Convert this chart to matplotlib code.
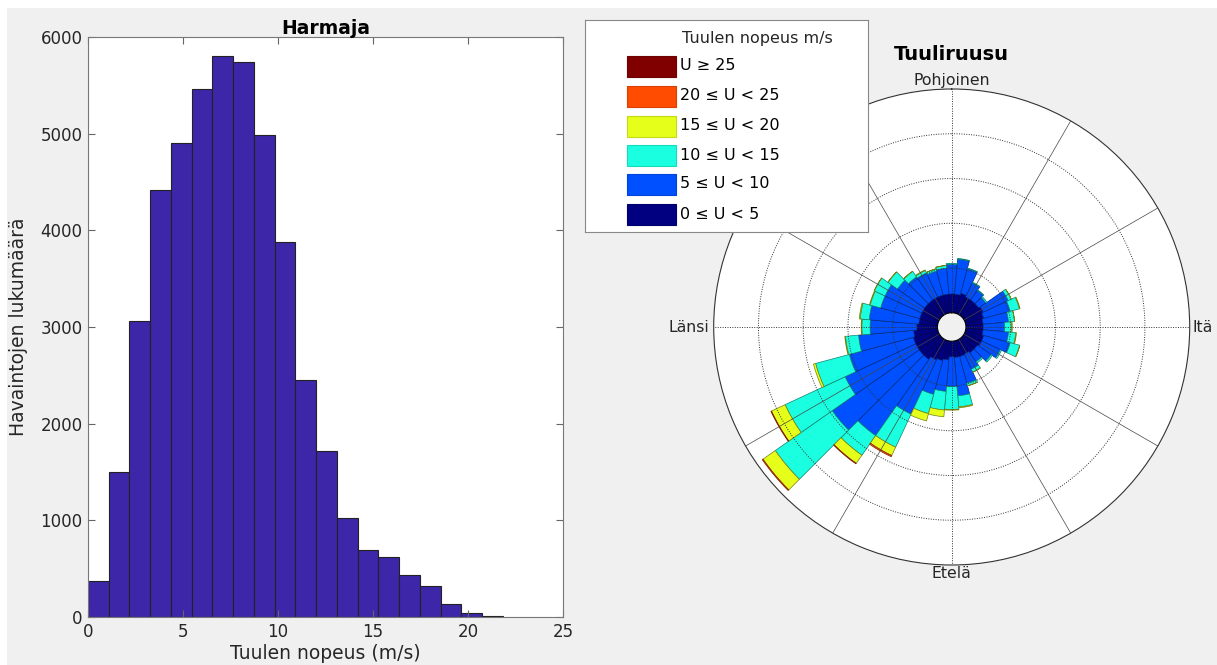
import numpy as np
import matplotlib.pyplot as plt
from matplotlib.colors import to_rgb
from matplotlib.patches import Rectangle

# histogram of wind speed at Harmaja
bin_edges = np.linspace(0, 21.84, 21)
counts = [377, 1504, 3061, 4421, 4899, 5465, 5807, 5737, 4982, 3877,
          2456, 1719, 1022, 689, 618, 439, 320, 136, 44, 9]

# wind rose: frequency (%) per 10 degree sector and speed class
dirs = np.arange(0, 360, 10)
u_0_5 = [0.84, 0.84, 0.92, 0.84, 0.84, 0.84, 0.92, 0.84, 0.77, 0.77, 0.77, 0.84,
         0.84, 0.77, 0.77, 0.70, 0.73, 0.73, 0.70, 0.84, 0.92, 0.99, 1.14, 1.14,
         1.14, 1.14, 1.07, 0.92, 0.84, 0.84, 0.84, 0.84, 0.84, 0.84, 0.84, 0.84]
u_5_10 = [1.33, 1.57, 1.14, 0.70, 0.52, 0.39, 1.23, 1.23, 1.14, 0.96, 1.14, 1.23,
          0.92, 0.74, 0.49, 0.74, 1.23, 1.72, 1.33, 1.41, 1.56, 2.67, 4.15, 4.74,
          3.48, 2.96, 2.47, 2.09, 2.22, 1.81, 1.81, 1.48, 1.26, 1.19, 1.11, 1.16]
u_10_15 = [0.04, 0.03, 0.03, 0.03, 0.03, 0.06, 0.15, 0.43, 0.27, 0.30, 0.33, 0.44,
           0.06, 0.07, 0.07, 0.15, 0.12, 0.50, 1.02, 0.84, 0.89, 1.63, 1.07, 3.11,
           2.96, 1.56, 0.59, 0.37, 0.41, 0.49, 0.53, 0.52, 0.30, 0.12, 0.10, 0.12]
u_15_20 = [0, 0, 0, 0, 0, 0, 0.01, 0.03, 0.01, 0.04, 0.03, 0.01,
           0, 0, 0, 0.01, 0.01, 0.04, 0.03, 0.30, 0.34, 0.41, 0.44, 0.67,
           0.67, 0.10, 0.03, 0.03, 0.04, 0.03, 0.01, 0.01, 0.01, 0.03, 0.01, 0.01]
u_20_25 = [0, 0, 0, 0, 0, 0, 0, 0, 0, 0, 0, 0,
           0, 0, 0, 0, 0, 0, 0, 0, 0, 0.06, 0.03, 0.04,
           0.03, 0, 0, 0, 0, 0, 0, 0, 0, 0, 0, 0]
u_25 = [0] * 36

classes = [u_0_5, u_5_10, u_10_15, u_15_20, u_20_25, u_25]
class_labels = ['0 ≤ U < 5', '5 ≤ U < 10', '10 ≤ U < 15',
                '15 ≤ U < 20', '20 ≤ U < 25', 'U ≥ 25']
class_colors = ['#000080', '#0050FF', '#1AFFE0', '#E5FF1A', '#FF4C00', '#800000']
ring_step = 2
ring_max = 10
hole = 0.637

bg = '#F0F0F0'
txt = '#262626'

fig = plt.figure(figsize=(12.17, 6.65), dpi=100, facecolor='white')
fig.patches.append(Rectangle((7/1217, 0), 1, 1 - 8/665, transform=fig.transFigure,
                             facecolor=bg, edgecolor='none', zorder=-10))

# ---- left: histogram ----
ax = fig.add_axes([88/1217, 48/665, 475/1217, 580/665])
ax.bar(bin_edges[:-1], counts, width=np.diff(bin_edges), align='edge',
       color='#3E26A8', edgecolor='#222222', linewidth=0.8)
ax.set_xlim(0, 25)
ax.set_ylim(0, 6000)
ax.set_xticks([0, 5, 10, 15, 20, 25])
ax.set_yticks(range(0, 6001, 1000))
ax.tick_params(direction='in', length=5, top=True, right=True, color='#666666',
               labelsize=12, labelcolor=txt, pad=4)
for s in ax.spines.values():
    s.set_color('#777777')
ax.set_title('Harmaja', fontweight='bold', fontsize=13.5, pad=2, color='black')
ax.set_xlabel('Tuulen nopeus (m/s)', fontsize=13.5, color=txt, labelpad=2.5)
ax.set_ylabel('Havaintojen lukumäärä', fontsize=13.5, color=txt, labelpad=9)

# ---- right: wind rose ----
axp = fig.add_axes([713.7/1217, 1 - 565/665, 476/1217, 476/665], projection='polar')
axp.set_theta_zero_location('N')
axp.set_theta_direction(-1)
axp.set_rorigin(-hole)
axp.set_ylim(0, ring_max)
axp.grid(False)
axp.set_xticks([])
axp.set_yticks([])
axp.set_facecolor('white')
axp.spines['polar'].set_color('#333333')
axp.spines['polar'].set_linewidth(0.8)
if 'inner' in axp.spines:
    axp.spines['inner'].set_visible(False)

theta = np.deg2rad(dirs)
cum = np.zeros(len(dirs))
for vals, col in zip(classes, class_colors):
    vals = np.array(vals, dtype=float)
    m = vals > 0
    if m.any():
        edge = tuple(np.array(to_rgb(col)) * 0.5)
        axp.bar(theta[m], vals[m], width=np.deg2rad(10), bottom=cum[m],
                color=col, edgecolor=edge, linewidth=0.5, zorder=2)
    cum += vals

circ = np.linspace(0, 2 * np.pi, 361)
for r in range(ring_step, ring_max, ring_step):
    axp.plot(circ, [r] * len(circ), color='#333333', ls=(0, (1, 1.5)), lw=0.7, zorder=3)
for a in range(0, 360, 30):
    if a % 90 == 0:
        axp.plot([np.deg2rad(a)] * 2, [0, ring_max], color='#333333',
                 ls=(0, (1, 1.5)), lw=0.7, zorder=3)
    else:
        axp.plot([np.deg2rad(a)] * 2, [0, ring_max], color='#444444',
                 lw=0.5, zorder=3)

lab = dict(fontsize=11.3, color=txt, textcoords='offset pixels', annotation_clip=False)
axp.annotate('Pohjoinen', (0, ring_max), xytext=(0, 1), ha='center', va='bottom', **lab)
axp.annotate('Etelä', (np.pi, ring_max), xytext=(0, -1), ha='center', va='top', **lab)
axp.annotate('Länsi', (1.5 * np.pi, ring_max), xytext=(-4, 0), ha='right', va='center', **lab)
axp.annotate('Itä', (0.5 * np.pi, ring_max), xytext=(3, 0), ha='left', va='center', **lab)

fig.text(951.7/1217, 1 - 55/665, 'Tuuliruusu', ha='center', va='center',
         fontsize=14, fontweight='bold', color='black')

# ---- legend box ----
leg = fig.add_axes([585/1217, 1 - 232/665, 283/1217, 212/665])
leg.set_xlim(0, 283)
leg.set_ylim(212, 0)
leg.set_xticks([])
leg.set_yticks([])
leg.set_facecolor('white')
for s in leg.spines.values():
    s.set_color('#888888')
leg.text(172, 18, 'Tuulen nopeus m/s', ha='center', va='center', fontsize=11.5, color=txt)
row_y = [194, 164, 135, 106, 76, 46]
for y, lbl, col in zip(row_y, class_labels, class_colors):
    edge = tuple(np.array(to_rgb(col)) * 0.85)
    leg.add_patch(Rectangle((42, y - 10.5), 49, 21, facecolor=col, edgecolor=edge, lw=0.8))
    leg.text(95, y, lbl, ha='left', va='center', fontsize=11.5, color='black')

fig.savefig('out.png', dpi=100, facecolor=fig.get_facecolor())
